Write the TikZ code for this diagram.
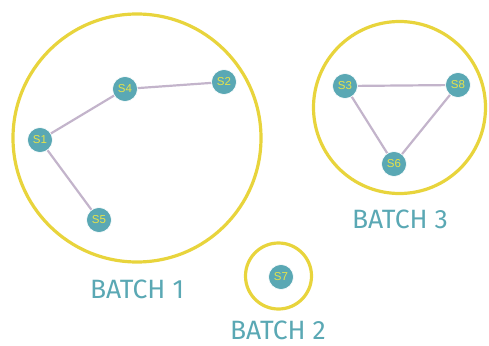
\documentclass[tikz,border=0pt]{standalone}
\usepackage{fontspec}
\setmainfont{Fira Sans}
\newfontfamily\nodefont{Liberation Sans}
\definecolor{ring}{HTML}{E8D43C}
\definecolor{tealc}{HTML}{5AA8B4}
\definecolor{ylw}{HTML}{E6E24A}
\definecolor{edgec}{HTML}{C3B4CB}
\begin{document}
\begin{tikzpicture}[x=1pt,y=-1pt,
  srv/.style={circle,fill=tealc,draw=white,line width=0.6pt,minimum size=25pt,inner sep=0pt,text=ylw,font=\nodefont\fontsize{11.5}{13}\selectfont},
  batchring/.style={draw=ring,line width=3.2pt},
  lnk/.style={draw=edgec,line width=2.2pt},
  blabel/.style={text=tealc,font=\fontsize{26.5}{30}\selectfont}]
\useasboundingbox (0,0) rectangle (489,345);
\draw[batchring] (137,138) circle (124);
\draw[batchring] (399.5,107.5) circle (86);
\draw[batchring] (278.5,276) circle (33);
\node[srv] (s1) at (40,140) {S1};
\node[srv] (s4) at (125,89) {S4};
\node[srv] (s2) at (224,82) {S2};
\node[srv] (s5) at (99,220) {S5};
\node[srv] (s3) at (345,86) {S3};
\node[srv] (s8) at (458,85) {S8};
\node[srv] (s6) at (394,164) {S6};
\node[srv] (s7) at (281,277) {S7};
\draw[lnk] (s1) -- (s4);
\draw[lnk] (s4) -- (s2);
\draw[lnk] (s1) -- (s5);
\draw[lnk] (s3) -- (s8);
\draw[lnk] (s3) -- (s6);
\draw[lnk] (s8) -- (s6);
\node[blabel] (b1) at (137,289) {BATCH 1};
\node[blabel] (b3) at (400,219) {BATCH 3};
\node[blabel] (b2) at (278,330) {BATCH 2};
\end{tikzpicture}
\end{document}
